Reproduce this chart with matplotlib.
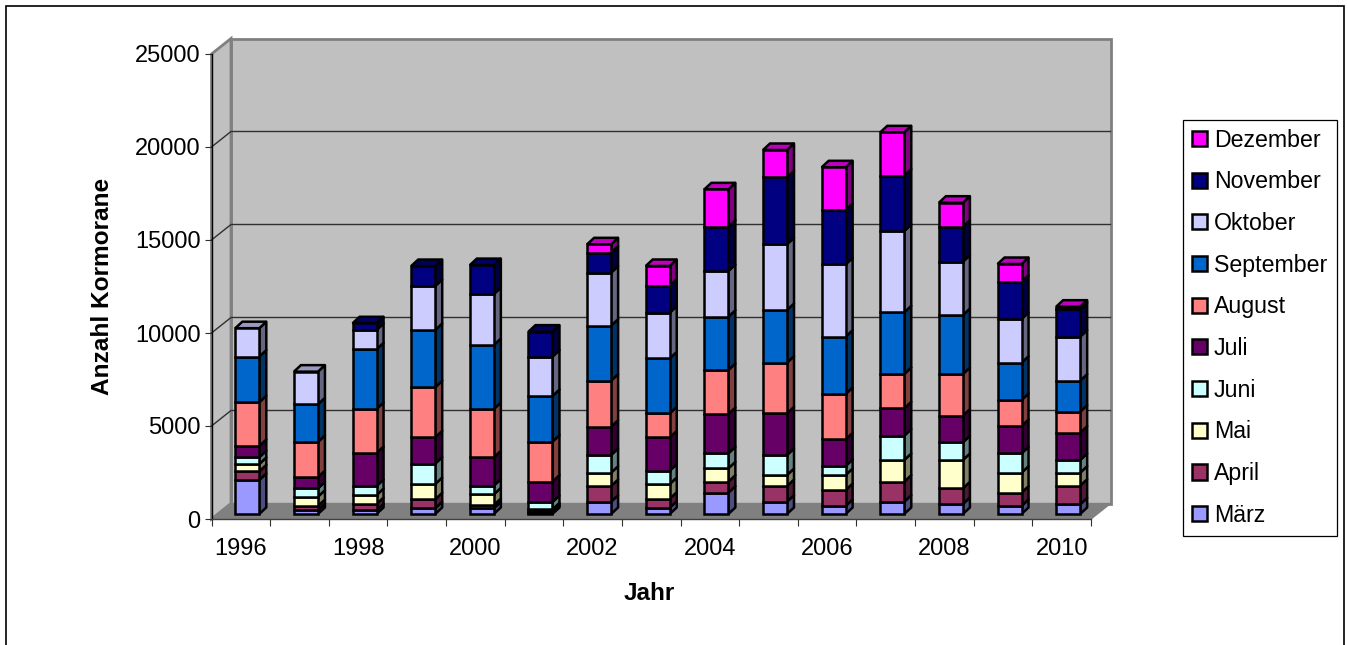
import matplotlib
matplotlib.use("Agg")
import matplotlib.pyplot as plt
import numpy as np
from matplotlib.collections import PolyCollection
from matplotlib.colors import to_rgb
from matplotlib.patches import Patch, Polygon, Rectangle

plt.rcParams['font.family'] = ['Liberation Sans', 'DejaVu Sans']

jahre = [1996, 1997, 1998, 1999, 2000, 2001, 2002, 2003, 2004, 2005, 2006, 2007, 2008, 2009, 2010]
monate = ["März", "April", "Mai", "Juni", "Juli", "August", "September", "Oktober", "November", "Dezember"]

# werte
maerz = [1830, 197, 197, 305, 305, 80, 663, 341, 1147, 663, 430, 663, 538, 430, 520]
april = [465, 233, 341, 484, 179, 80, 842, 484, 591, 842, 860, 1076, 842, 717, 1003]
mai = [395, 502, 484, 825, 573, 90, 717, 789, 716, 592, 807, 1164, 1523, 1075, 699]
juni = [360, 448, 484, 1093, 466, 396, 950, 716, 807, 1075, 484, 1308, 950, 1039, 681]
juli = [610, 609, 1775, 1416, 1524, 1094, 1523, 1792, 2115, 2240, 1434, 1470, 1433, 1470, 1469]
august = [2350, 1883, 2367, 2688, 2599, 2151, 2474, 1290, 2365, 2724, 2437, 1846, 2240, 1398, 1129]
september = [2455, 2025, 3208, 3083, 3441, 2455, 2958, 2958, 2868, 2832, 3083, 3315, 3172, 2007, 1667]
oktober = [1525, 1757, 1039, 2362, 2735, 2115, 2849, 2455, 2455, 3531, 3889, 4373, 2867, 2347, 2365]
november = [0, 0, 359, 1075, 1560, 1344, 1075, 1451, 2383, 3602, 2921, 2975, 1882, 2007, 1470]
dezember = [0, 0, 0, 0, 0, 0, 448, 1058, 2008, 1470, 2295, 2330, 1290, 950, 143]
reihen = [maerz, april, mai, juni, juli, august, september, oktober, november, dezember]
farben = ["#9999FF", "#993366", "#FFFFCC", "#CCFFFF", "#660066", "#FF8080", "#0066CC", "#CCCCFF", "#000080", "#FF00FF"]

W, H = 1348, 645
fig = plt.figure(figsize=(W / 100, H / 100), dpi=100, facecolor="white")
# aussenrahmen, geht unten aus dem bild raus
fig.patches.append(Rectangle((6 / W, -0.05), 1338 / W, 1.05 - 6 / H, transform=fig.transFigure,
                             fill=False, ec="black", lw=1.2))

x0, x1, y0, y1 = 211.5, 1091, 519, 54
ax = fig.add_axes([x0 / W, (H - y0) / H, (x1 - x0) / W, (y0 - y1) / H])
ax.set_xlim(-0.5, 14.5)
ax.set_ylim(0, 25000)
ax.patch.set_alpha(0)
for s in ax.spines.values():
    s.set_visible(False)

px_x = 15 / (x1 - x0)
px_y = 25000 / (y0 - y1)
tiefe_x, tiefe_y = 19.5 * px_x, 15.5 * px_y

# waende und boden
links, rechts = -0.5, 14.5
ax.add_patch(Polygon([(links + tiefe_x, tiefe_y), (rechts + tiefe_x, tiefe_y), (rechts + tiefe_x, 25000 + tiefe_y),
                      (links + tiefe_x, 25000 + tiefe_y)], fc="#C0C0C0", ec="#808080", lw=2, clip_on=False, zorder=1))
ax.add_patch(Polygon([(links, 0), (links + tiefe_x, tiefe_y), (links + tiefe_x, 25000 + tiefe_y), (links, 25000)],
                     fc="#C0C0C0", ec="#808080", lw=2, clip_on=False, zorder=1))
ax.add_patch(Polygon([(links, 0), (rechts, 0), (rechts + tiefe_x, tiefe_y), (links + tiefe_x, tiefe_y)],
                     fc="#808080", ec="#808080", lw=1, clip_on=False, zorder=1))
for t in [5000, 10000, 15000, 20000]:
    ax.plot([links, links + tiefe_x, rechts + tiefe_x], [t, t + tiefe_y, t + tiefe_y], color="#303030", lw=1,
            clip_on=False, zorder=2)
ax.plot([links, links], [0, 25000], color="black", lw=1, clip_on=False, zorder=2)
ax.plot([links, rechts], [0, 0], color="#404040", lw=1, clip_on=False, zorder=2)

# saeulen, jede mit seite und deckel
x = np.arange(len(jahre))
breite = 24 * px_x
versatz_x, boden = 6.5 * px_x, 5 * px_y
d_x, d_y = 7 * px_x, 6.5 * px_y
kante = 1.8
for i in x:
    links_b = i + versatz_x - breite / 2
    rechts_b = links_b + breite
    unten = boden
    zuletzt = None
    seiten, seiten_f = [], []
    for r, reihe in enumerate(reihen):
        v = reihe[i]
        if v == 0:
            continue
        oben = unten + v
        seiten.append([(rechts_b, unten), (rechts_b + d_x, unten + d_y), (rechts_b + d_x, oben + d_y), (rechts_b, oben)])
        seiten_f.append(tuple(c * 0.5 for c in to_rgb(farben[r])))
        ax.bar(links_b + breite / 2, v, breite, bottom=unten, color=farben[r], edgecolor="black", linewidth=kante, zorder=5)
        unten = oben
        zuletzt = r
    ax.add_collection(PolyCollection(seiten, facecolors=seiten_f, edgecolors="black", linewidths=kante, zorder=4))
    deckel = [(links_b, unten), (rechts_b, unten), (rechts_b + d_x, unten + d_y), (links_b + d_x, unten + d_y)]
    ax.add_patch(Polygon(deckel, fc=tuple(c * 0.75 for c in to_rgb(farben[zuletzt])), ec="black", lw=kante, zorder=4))

ax.set_xlim(-0.5, 14.5)
ax.set_ylim(0, 25000)

# achsen
ax.set_yticks(np.arange(0, 25001, 5000))
ax.tick_params(axis="y", length=5, width=0.8, pad=3, labelsize=17, color="#303030")
ax.set_xticks(np.arange(-0.5, 15, 1))
ax.set_xticklabels([])
ax.tick_params(axis="x", which="major", length=5, width=0.8, color="#303030")
ax.set_xticks(x[::2], minor=True)
ax.set_xticklabels([str(j) for j in jahre[::2]], minor=True)
ax.tick_params(axis="x", which="minor", length=0, pad=13.5, labelsize=17)

fig.text(649.5 / W, 1 - 593 / H, "Jahr", ha="center", va="center", fontsize=17.5, fontweight="bold")
fig.text(102.5 / W, 1 - 286 / H, "Anzahl Kormorane", ha="center", va="center", rotation=90, fontsize=17.6, fontweight="bold")

griffe = [Patch(fc=f, ec="black", lw=1.8) for f in farben][::-1]
leg = fig.legend(griffe, monate[::-1], loc="upper left", bbox_to_anchor=(1183 / W, 1 - 119.5 / H),
                 bbox_transform=fig.transFigure, fontsize=16.7, frameon=True, fancybox=False, edgecolor="black",
                 framealpha=1, handlelength=0.62, handleheight=0.62, handletextpad=0.32, labelspacing=0.805,
                 borderpad=0.4, borderaxespad=0)
leg.get_frame().set_linewidth(0.9)

fig.savefig("out.png", dpi=100)
